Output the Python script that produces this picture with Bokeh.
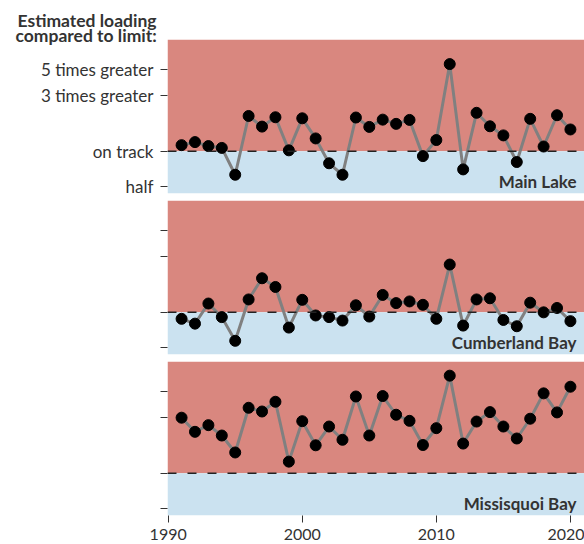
from bokeh.plotting import figure
from bokeh.models import (FixedTicker, CustomJSTickFormatter, BoxAnnotation, Span, Label, Range1d, Title)
from bokeh.layouts import column
from bokeh.embed import file_html
from bokeh.resources import INLINE

years = list(range(1991, 2021))
main_lake = [1.13, 1.20, 1.11, 1.07, 0.63, 2.01, 1.63, 1.96, 1.02, 1.92,
             1.29, 0.79, 0.63, 1.95, 1.62, 1.87, 1.72, 1.86, 0.91, 1.25,
             5.6, 0.70, 2.14, 1.64, 1.37, 0.81, 1.90, 1.10, 2.04, 1.54]
cumberland = [0.88, 0.80, 1.19, 0.91, 0.57, 1.29, 1.96, 1.65, 0.74, 1.28,
              0.94, 0.91, 0.85, 1.15, 0.92, 1.41, 1.20, 1.24, 1.16, 0.88,
              2.57, 0.77, 1.29, 1.32, 0.86, 0.76, 1.21, 1.00, 1.09, 0.84]
missisquoi = [3.0, 2.27, 2.59, 2.11, 1.51, 3.65, 3.39, 4.11, 1.26, 2.8,
              1.74, 2.52, 1.94, 4.56, 2.11, 4.6, 3.18, 2.82, 1.75, 2.44,
              6.88, 1.8, 2.78, 3.35, 2.52, 1.99, 2.94, 4.85, 3.33, 5.53]
panel_names = ["Main Lake", "Cumberland Bay", "Missisquoi Bay"]
series = [main_lake, cumberland, missisquoi]
y_ticks = [0.5, 1, 3, 5]
y_tick_labels = ["half", "on track", "3 times greater", "5 times greater"]
x_ticks = [1990, 2000, 2010, 2020]
title_lines = ["Estimated loading", "compared to limit:"]

FONT = "Lato"
TXT = "#333333"
RED = "#d9877f"
BLUE = "#cbe2f0"
X0, X1 = 1989.95, 2021.05
Y0, Y1 = 0.435, 9.1

figs = []
borders = [(39, 3), (4, 2), (5, 29)]
for i, (name, vals) in enumerate(zip(panel_names, series)):
    top_b, bot_b = borders[i]
    p = figure(frame_width=417, frame_height=154, y_axis_type="log",
               x_range=Range1d(X0, X1), y_range=Range1d(Y0, Y1),
               output_backend="svg", toolbar_location=None,
               min_border_left=167, min_border_right=0,
               min_border_top=top_b, min_border_bottom=bot_b)
    p.outline_line_color = None
    p.grid.visible = False
    p.add_layout(BoxAnnotation(bottom=1, fill_color=RED, fill_alpha=1, line_alpha=0, level="underlay"))
    p.add_layout(BoxAnnotation(top=1, fill_color=BLUE, fill_alpha=1, line_alpha=0, level="underlay"))
    p.add_layout(Span(location=1, dimension="width", line_color="#222222",
                      line_width=1.5, line_dash="9 11"))
    p.line(years, vals, line_color="#808080", line_width=3)
    p.scatter(years, vals, size=11, fill_color="black", line_color="black")

    ya = p.yaxis[0]
    ya.ticker = FixedTicker(ticks=y_ticks)
    ya.minor_tick_line_color = None
    ya.axis_line_color = None
    ya.major_tick_line_color = TXT
    ya.major_tick_out = 7
    ya.major_tick_in = 0
    ya.major_label_standoff = 7
    ya.major_label_text_font = FONT
    ya.major_label_text_font_size = "17px"
    ya.major_label_text_color = TXT
    if i == 0:
        ya.formatter = CustomJSTickFormatter(
            args=dict(t=y_ticks, l=y_tick_labels),
            code="for (let k=0;k<t.length;k++){ if (Math.abs(t[k]-tick)<1e-6) return l[k]; } return '';")
    else:
        ya.formatter = CustomJSTickFormatter(code="return '';")

    xa = p.xaxis[0]
    if i < 2:
        xa.visible = False
    else:
        xa.ticker = FixedTicker(ticks=x_ticks)
        xa.minor_tick_line_color = None
        xa.axis_line_color = None
        xa.major_tick_line_color = TXT
        xa.major_tick_out = 7
        xa.major_tick_in = 0
        xa.major_label_standoff = 6
        xa.major_label_text_font = FONT
        xa.major_label_text_font_size = "16px"
        xa.major_label_text_color = TXT

    p.add_layout(Label(x=409, y=12, x_units="screen", y_units="screen",
                       text=name, text_align="right",
                       text_baseline="alphabetic", text_font=FONT,
                       text_font_size="17px", text_font_style="bold",
                       text_color=TXT))
    if i == 0:
        for txt, off, so in zip(reversed(title_lines), [-152, -150], [-12, -5]):
            p.add_layout(Title(text=txt, align="left", offset=off, standoff=so,
                               text_font=FONT, text_font_size="17.5px",
                               text_font_style="bold", text_color=TXT), "above")
    figs.append(p)

layout = column(*figs, spacing=0)
open("out.html", "w").write(file_html(layout, INLINE))
